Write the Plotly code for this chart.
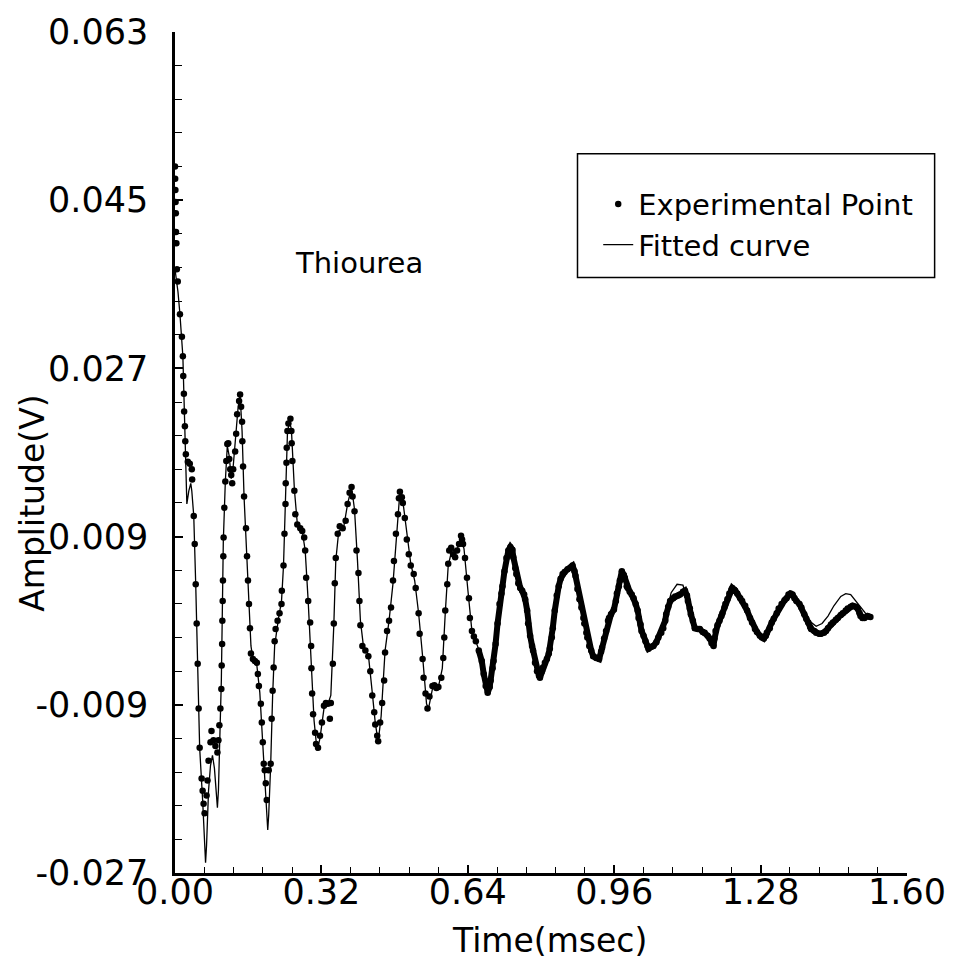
import plotly.graph_objects as go
import numpy as np

# ---------------- data (time in msec, amplitude in V) ----------------
exp_time = [
    0.0000, 0.0004, 0.0008, 0.0013, 0.0018, 0.0022, 0.0030, 0.0040, 0.0060, 0.0108,
    0.0151, 0.0172, 0.0180, 0.0194, 0.0200, 0.0216, 0.0225, 0.0237, 0.0280, 0.0323,
    0.0367, 0.0375, 0.0410, 0.0431, 0.0453, 0.0474, 0.0496, 0.0517, 0.0539, 0.0582,
    0.0604, 0.0625, 0.0647,
    0.0690, 0.0711, 0.0733, 0.0776, 0.0798, 0.0841, 0.0884, 0.0927, 0.0949, 0.0970,
    0.0992, 0.1013, 0.1020, 0.1030, 0.1035, 0.1042, 0.1048, 0.1056, 0.1062, 0.1078,
    0.1100, 0.1121, 0.1143, 0.1164, 0.1186, 0.1207, 0.1229, 0.1250, 0.1272, 0.1315,
    0.1337, 0.1358, 0.1401, 0.1423, 0.1445, 0.1466, 0.1472, 0.1488, 0.1509, 0.1552,
    0.1574, 0.1595, 0.1617, 0.1639, 0.1660, 0.1703, 0.1746, 0.1789, 0.1811, 0.1833,
    0.1876, 0.1897, 0.1919, 0.1940, 0.1962, 0.1984, 0.2005, 0.2048, 0.2091,
    0.2113, 0.2134, 0.2156, 0.2178, 0.2199, 0.2242, 0.2285, 0.2328, 0.2335, 0.2372,
    0.2393, 0.2415, 0.2420, 0.2436, 0.2442, 0.2458, 0.2479, 0.2523, 0.2544, 0.2550,
    0.2566, 0.2609, 0.2630, 0.2673, 0.2738, 0.2781, 0.2824, 0.2846, 0.2867, 0.2911,
    0.2954, 0.2975, 0.2982, 0.2997, 0.3018, 0.3062, 0.3083, 0.3126, 0.3169, 0.3212,
    0.3256, 0.3299, 0.3342, 0.3385, 0.3406, 0.3450, 0.3471, 0.3493, 0.3514, 0.3557,
    0.3601, 0.3665, 0.3730, 0.3773, 0.3816, 0.3859, 0.3881, 0.3924, 0.3967, 0.4010,
    0.4032, 0.4053, 0.4096, 0.4161, 0.4226, 0.4269, 0.4312, 0.4355, 0.4377, 0.4420,
    0.4441, 0.4484, 0.4528, 0.4571, 0.4592, 0.4635, 0.4679, 0.4722, 0.4765, 0.4786,
    0.4829, 0.4873, 0.4894, 0.4916, 0.4959, 0.4980, 0.5023, 0.5067, 0.5110, 0.5153,
    0.5218, 0.5261, 0.5325, 0.5347, 0.5412, 0.5433, 0.5476, 0.5519, 0.5562, 0.5627,
    0.5670, 0.5713, 0.5757, 0.5821, 0.5864, 0.5886, 0.5907, 0.5951, 0.5972, 0.5994,
    0.6037, 0.6080, 0.6123, 0.6166, 0.6209, 0.6252, 0.6274, 0.6296, 0.6339, 0.6382,
    0.6425, 0.6446, 0.6490, 0.6533, 0.6576, 0.6640, 0.6705, 0.6748, 0.6791, 0.6835,
    0.6878, 0.6899, 0.6942, 0.6964, 0.7007, 0.7050, 0.7093, 0.7136, 0.7158, 0.7201,
    0.7244, 0.7287, 0.7330, 0.7374, 0.7395, 0.7438, 0.7460, 0.7503, 0.7546, 0.7589,
    0.7632, 0.7654, 0.7697, 0.7718, 0.7762, 0.7805, 0.7826, 0.7869, 0.7913, 0.7956,
    0.7977, 0.8020, 0.8042, 0.8085, 0.8128, 0.8171, 0.8193, 0.8236, 0.8257, 0.8301,
    0.8344, 0.8387, 0.8430, 0.8473, 0.8516, 0.8581, 0.8646, 0.8689, 0.8732, 0.8753,
    0.8796, 0.8840, 0.8883, 0.8926, 0.8947, 0.8991, 0.9012, 0.9055, 0.9098, 0.9141,
    0.9206, 0.9271, 0.9314, 0.9335, 0.9379, 0.9422, 0.9465, 0.9486, 0.9530, 0.9594,
    0.9637, 0.9659, 0.9702, 0.9724, 0.9767, 0.9810, 0.9831, 0.9874, 0.9896, 0.9939,
    0.9982, 1.0025, 1.0069, 1.0112, 1.0133, 1.0176, 1.0198, 1.0241, 1.0284, 1.0327,
    1.0349, 1.0413, 1.0457, 1.0521, 1.0564, 1.0629, 1.0672, 1.0715, 1.0737, 1.0780,
    1.0823, 1.0888, 1.0931, 1.0996, 1.1039, 1.1103, 1.1147, 1.1190, 1.1211, 1.1254,
    1.1276, 1.1319, 1.1362, 1.1427, 1.1470, 1.1535, 1.1578, 1.1642, 1.1686, 1.1729,
    1.1772, 1.1793, 1.1815, 1.1858, 1.1901, 1.1944, 1.1966, 1.2009, 1.2030, 1.2074,
    1.2117, 1.2160, 1.2181, 1.2225, 1.2246, 1.2289, 1.2354, 1.2397, 1.2462, 1.2505,
    1.2569, 1.2613, 1.2677, 1.2720, 1.2785, 1.2828, 1.2871, 1.2914, 1.2936, 1.3001,
    1.3044, 1.3087, 1.3152, 1.3195, 1.3259, 1.3324, 1.3367, 1.3410, 1.3453, 1.3497,
    1.3540, 1.3583, 1.3648, 1.3691, 1.3755, 1.3798, 1.3842, 1.3885, 1.3906, 1.3971,
    1.4014, 1.4079, 1.4122, 1.4186, 1.4230, 1.4273, 1.4337, 1.4381, 1.4445, 1.4488,
    1.4553, 1.4596, 1.4661, 1.4704, 1.4769, 1.4812, 1.4876, 1.4920, 1.4963, 1.4984,
    1.5027, 1.5070, 1.5135, 1.5200,
]
exp_amp = [
    0.0486, 0.0473, 0.0461, 0.0448, 0.0436, 0.0416, 0.0404, 0.0376, 0.0363, 0.0328,
    0.0304, 0.0283, 0.0262, 0.0243, 0.0224, 0.0208, 0.0192, 0.0178, 0.0170, 0.0168,
    0.0162, 0.0151, 0.0112, 0.0082, 0.0039, -0.0003, -0.0046, -0.0094, -0.0136, -0.0169,
    -0.0182, -0.0196, -0.0206,
    -0.0187, -0.0171, -0.0150, -0.0130, -0.0118, -0.0128, -0.0134, -0.0141, -0.0128, -0.0112,
    -0.0094, -0.0073, -0.0048, -0.0025, 0.0000, 0.0021, 0.0043, 0.0069, 0.0089, 0.0121,
    0.0149, 0.0171, 0.0189, 0.0190, 0.0173, 0.0162, 0.0156, 0.0147, 0.0162, 0.0181,
    0.0200, 0.0221, 0.0235, 0.0242, 0.0229, 0.0213, 0.0192, 0.0165, 0.0133, 0.0099,
    0.0069, 0.0043, 0.0018, -0.0008, -0.0035, -0.0041, -0.0043, -0.0045, -0.0057, -0.0070,
    -0.0089, -0.0109, -0.0130, -0.0153, -0.0160, -0.0174, -0.0192, -0.0160, -0.0153,
    -0.0105, -0.0075, -0.0050, -0.0022, -0.0009, 0.0000, 0.0008, 0.0018, 0.0032, 0.0059,
    0.0093, 0.0125, 0.0147, 0.0169, 0.0185, 0.0203, 0.0211, 0.0216, 0.0203, 0.0190,
    0.0171, 0.0139, 0.0114, 0.0103, 0.0099, 0.0096, 0.0089, 0.0075, 0.0046, 0.0021,
    -0.0002, -0.0027, -0.0051, -0.0078, -0.0100, -0.0120, -0.0132, -0.0136, -0.0123, -0.0109,
    -0.0091, -0.0088, -0.0089, -0.0105, -0.0088, -0.0046, -0.0003, 0.0040, 0.0067, 0.0093,
    0.0101, 0.0099, 0.0107, 0.0125, 0.0137, 0.0143, 0.0133, 0.0117, 0.0075, 0.0051,
    0.0021, -0.0005, -0.0027, -0.0032, -0.0038, -0.0054, -0.0080, -0.0098, -0.0111, -0.0123,
    -0.0129, -0.0109, -0.0088, -0.0064, -0.0034, -0.0011, 0.0000, 0.0014, 0.0043, 0.0064,
    0.0093, 0.0114, 0.0131, 0.0138, 0.0132, 0.0126, 0.0110, 0.0087, 0.0071, 0.0059,
    0.0050, 0.0035, 0.0008, -0.0014, -0.0041, -0.0061, -0.0078, -0.0094, -0.0081, -0.0070,
    -0.0069, -0.0072, -0.0071, -0.0061, -0.0040, -0.0018, 0.0011, 0.0039, 0.0061, 0.0075,
    0.0078, 0.0071, 0.0068, 0.0075, 0.0082, 0.0091, 0.0087, 0.0082, 0.0067, 0.0046,
    0.0024, 0.0003, -0.0011, -0.0017, -0.0022, -0.0032, -0.0043, -0.0057, -0.0070, -0.0077,
    -0.0071, -0.0064, -0.0051, -0.0043, -0.0025, -0.0003, 0.0018, 0.0029, 0.0037, 0.0053,
    0.0067, 0.0075, 0.0079, 0.0076, 0.0068, 0.0056, 0.0050, 0.0040, 0.0035, 0.0032,
    0.0028, 0.0023, 0.0011, -0.0003, -0.0016, -0.0027, -0.0032, -0.0045, -0.0054, -0.0059,
    -0.0061, -0.0054, -0.0050, -0.0045, -0.0041, -0.0035, -0.0030, -0.0018, -0.0008, 0.0011,
    0.0027, 0.0037, 0.0045, 0.0050, 0.0052, 0.0055, 0.0057, 0.0059, 0.0053, 0.0048,
    0.0034, 0.0023, 0.0014, 0.0003, -0.0003, -0.0013, -0.0018, -0.0027, -0.0032, -0.0038,
    -0.0040, -0.0041, -0.0033, -0.0029, -0.0019, -0.0011, 0.0000, 0.0003, 0.0007, 0.0012,
    0.0021, 0.0029, 0.0037, 0.0043, 0.0053, 0.0049, 0.0046, 0.0037, 0.0035, 0.0031,
    0.0028, 0.0024, 0.0018, 0.0011, 0.0003, -0.0004, -0.0011, -0.0016, -0.0022, -0.0027,
    -0.0030, -0.0028, -0.0027, -0.0023, -0.0018, -0.0013, -0.0008, 0.0000, 0.0007, 0.0015,
    0.0021, 0.0024, 0.0026, 0.0027, 0.0028, 0.0031, 0.0032, 0.0027, 0.0021, 0.0013,
    0.0007, 0.0000, -0.0008, -0.0009, -0.0009, -0.0012, -0.0013, -0.0016, -0.0019, -0.0024,
    -0.0027, -0.0019, -0.0011, -0.0005, 0.0000, 0.0005, 0.0008, 0.0014, 0.0018, 0.0023,
    0.0029, 0.0033, 0.0035, 0.0033, 0.0032, 0.0029, 0.0024, 0.0021, 0.0016, 0.0011,
    0.0003, -0.0002, -0.0009, -0.0012, -0.0016, -0.0018, -0.0019, -0.0016, -0.0013, -0.0008,
    -0.0002, 0.0002, 0.0008, 0.0013, 0.0018, 0.0022, 0.0024, 0.0028, 0.0029, 0.0028,
    0.0024, 0.0021, 0.0018, 0.0014, 0.0007, 0.0002, -0.0002, -0.0007, -0.0009, -0.0011,
    -0.0013, -0.0014, -0.0014, -0.0013, -0.0011, -0.0008, -0.0004, -0.0002, 0.0001, 0.0003,
    0.0006, 0.0008, 0.0011, 0.0013, 0.0015, 0.0016, 0.0015, 0.0013, 0.0008, 0.0005,
    0.0003, 0.0003, 0.0005, 0.0004,
]

fit_time = [
    0.0000, 0.0065, 0.0108, 0.0172, 0.0194, 0.0216, 0.0237, 0.0259, 0.0302, 0.0345,
    0.0367, 0.0410, 0.0453, 0.0496, 0.0539, 0.0604, 0.0647, 0.0668, 0.0690, 0.0733,
    0.0776, 0.0819, 0.0862, 0.0906, 0.0927, 0.0949, 0.0970, 0.0992, 0.1013, 0.1035,
    0.1056, 0.1100, 0.1143, 0.1186, 0.1229, 0.1272, 0.1337, 0.1380, 0.1423, 0.1466,
    0.1509, 0.1574, 0.1617, 0.1660, 0.1703, 0.1789, 0.1854, 0.1919, 0.1962, 0.2005,
    0.2027, 0.2048, 0.2091, 0.2134, 0.2178, 0.2264, 0.2328, 0.2372, 0.2415, 0.2458,
    0.2501, 0.2544, 0.2609, 0.2673, 0.2781, 0.2846, 0.2911, 0.2975, 0.3040, 0.3105,
    0.3169, 0.3256, 0.3342, 0.3406, 0.3471, 0.3514, 0.3579, 0.3687, 0.3773, 0.3859,
    0.3924, 0.3989, 0.4053, 0.4118, 0.4226, 0.4312, 0.4377, 0.4441, 0.4506, 0.4592,
    0.4679, 0.4765, 0.4851, 0.4916, 0.4980, 0.5067, 0.5153, 0.5239, 0.5325, 0.5412,
    0.5498, 0.5541, 0.5627, 0.5757, 0.5843, 0.5907, 0.5972, 0.6058, 0.6145, 0.6252,
    0.6317, 0.6403, 0.6490, 0.6619, 0.6748, 0.6835, 0.6921, 0.7007, 0.7115, 0.7223,
    0.7330, 0.7417, 0.7524, 0.7654, 0.7740, 0.7848, 0.7977, 0.8085, 0.8193, 0.8257,
    0.8344, 0.8452, 0.8581, 0.8689, 0.8775, 0.8883, 0.9012, 0.9120, 0.9249, 0.9357,
    0.9465, 0.9594, 0.9702, 0.9767, 0.9874, 1.0025, 1.0133, 1.0241, 1.0349, 1.0500,
    1.0629, 1.0737, 1.0845, 1.0974, 1.1103, 1.1190, 1.1276, 1.1405, 1.1578, 1.1750,
    1.1793, 1.1901, 1.2030, 1.2181, 1.2311, 1.2462, 1.2613, 1.2742, 1.2871, 1.3001,
    1.3152, 1.3303, 1.3453, 1.3583, 1.3734, 1.3863, 1.4014, 1.4143, 1.4273, 1.4402,
    1.4553, 1.4661, 1.4769, 1.4876, 1.4984, 1.5092, 1.5157,
]
fit_amp = [
    0.0376, 0.0352, 0.0328, 0.0283, 0.0243, 0.0192, 0.0155, 0.0125, 0.0139, 0.0147,
    0.0139, 0.0112, 0.0039, -0.0046, -0.0136, -0.0192, -0.0235, -0.0259, -0.0240, -0.0182,
    -0.0155, -0.0144, -0.0158, -0.0187, -0.0200, -0.0182, -0.0144, -0.0102, -0.0064, 0.0011,
    0.0085, 0.0149, 0.0187, 0.0176, 0.0152, 0.0165, 0.0200, 0.0229, 0.0242, 0.0203,
    0.0133, 0.0069, 0.0018, -0.0027, -0.0041, -0.0048, -0.0077, -0.0130, -0.0176, -0.0208,
    -0.0224, -0.0208, -0.0155, -0.0080, -0.0027, 0.0003, 0.0021, 0.0059, 0.0128, 0.0201,
    0.0213, 0.0205, 0.0141, 0.0104, 0.0096, 0.0075, 0.0021, -0.0043, -0.0107, -0.0139,
    -0.0126, -0.0094, -0.0089, -0.0080, -0.0005, 0.0064, 0.0096, 0.0100, 0.0125, 0.0143,
    0.0119, 0.0064, 0.0000, -0.0027, -0.0036, -0.0077, -0.0109, -0.0130, -0.0102, -0.0032,
    0.0000, 0.0040, 0.0101, 0.0138, 0.0128, 0.0091, 0.0061, 0.0043, 0.0008, -0.0038,
    -0.0089, -0.0094, -0.0073, -0.0071, -0.0051, 0.0008, 0.0059, 0.0077, 0.0072, 0.0091,
    0.0077, 0.0032, -0.0011, -0.0028, -0.0056, -0.0078, -0.0059, -0.0025, 0.0023, 0.0061,
    0.0079, 0.0064, 0.0037, 0.0023, -0.0011, -0.0038, -0.0059, -0.0048, -0.0030, -0.0008,
    0.0027, 0.0048, 0.0055, 0.0059, 0.0043, 0.0014, -0.0018, -0.0035, -0.0041, -0.0027,
    0.0000, 0.0012, 0.0037, 0.0053, 0.0038, 0.0024, 0.0003, -0.0016, -0.0029, -0.0025,
    -0.0013, 0.0008, 0.0030, 0.0039, 0.0038, 0.0024, 0.0007, -0.0007, -0.0013, -0.0026,
    -0.0022, 0.0000, 0.0018, 0.0035, 0.0029, 0.0015, 0.0002, -0.0013, -0.0019, -0.0008,
    0.0008, 0.0021, 0.0029, 0.0023, 0.0011, 0.0000, -0.0006, -0.0003, 0.0005, 0.0016,
    0.0026, 0.0029, 0.0028, 0.0021, 0.0014, 0.0008, 0.0006,
]

x_tick_vals = [0.00, 0.32, 0.64, 0.96, 1.28, 1.60]
x_tick_labels = ["0.00", "0.32", "0.64", "0.96", "1.28", "1.60"]
y_tick_vals = [-0.027, -0.009, 0.009, 0.027, 0.045, 0.063]
y_tick_labels = ["-0.027", "-0.009", "0.009", "0.027", "0.045", "0.063"]

series_names = ["Experimental Point", "Fitted curve"]
sample_label = "Thiourea"
x_title = "Time(msec)"
y_title = "Amplitude(V)"

# ---------------- figure ----------------
FONT = "DejaVu Sans"
exp_t = np.array(exp_time)
exp_a = np.array(exp_amp)
dense = exp_t >= 0.66

fig = go.Figure()
fig.add_trace(go.Scatter(
    x=exp_t, y=exp_a, mode="markers", name=series_names[0],
    marker=dict(color="black", size=6.5, symbol="circle"),
))
# dense tail of the measured points merges into a thick band
fig.add_trace(go.Scatter(
    x=exp_t[dense], y=exp_a[dense], mode="lines", showlegend=False,
    line=dict(color="black", width=6), hoverinfo="skip",
))
fig.add_trace(go.Scatter(
    x=fit_time, y=fit_amp, mode="lines", name=series_names[1],
    line=dict(color="black", width=1.3),
))

L, R, T, B = 175, 41, 30, 93
W, H = 958, 966
pw, ph = W - L - R, H - T - B


def px_to_paper(px, py):
    return (px - L) / pw, (H - B - py) / ph


bx0, by0 = px_to_paper(583, 276)
bx1, by1 = px_to_paper(945, 152)
lgx, lgy = px_to_paper(604, 177)
tx, ty = px_to_paper(362, 262)
ytx, yty = px_to_paper(31, 502)
xtx, xty = px_to_paper(555, 941)

fig.update_layout(
    width=W, height=H,
    margin=dict(l=L, r=R, t=T, b=B, pad=0),
    paper_bgcolor="white", plot_bgcolor="white",
    font=dict(family=FONT, color="black", size=34),
    showlegend=True,
    legend=dict(
        x=lgx, y=lgy, xanchor="left", yanchor="top",
        bgcolor="rgba(0,0,0,0)", borderwidth=0,
        font=dict(family=FONT, size=29, color="black"),
        tracegroupgap=0,
    ),
    xaxis=dict(
        range=[0, 1.6], tickmode="array", tickvals=x_tick_vals, ticktext=x_tick_labels,
        ticks="inside", ticklen=8, tickwidth=1.5, tickcolor="black",
        showline=True, linecolor="black", linewidth=2.5, mirror=False,
        showgrid=False, zeroline=False, ticklabelstandoff=-14,
        tickfont=dict(family=FONT, size=35, color="black"),
        minor=dict(dtick=0.064, tick0=0, ticks="inside", ticklen=6, tickwidth=1, tickcolor="black", showgrid=False),
    ),
    yaxis=dict(
        range=[-0.027, 0.063], tickmode="array", tickvals=y_tick_vals, ticktext=y_tick_labels,
        ticks="inside", ticklen=8, tickwidth=1.5, tickcolor="black",
        showline=True, linecolor="black", linewidth=2.5, mirror=False,
        showgrid=False, zeroline=False, ticklabelstandoff=17,
        tickfont=dict(family=FONT, size=35, color="black"),
        minor=dict(dtick=0.0036, tick0=-0.027, ticks="inside", ticklen=7, tickwidth=1.2, tickcolor="black", showgrid=False),
    ),
    shapes=[dict(type="rect", xref="paper", yref="paper", x0=bx0, y0=by0, x1=bx1, y1=by1,
                 line=dict(color="black", width=1.5), fillcolor="rgba(0,0,0,0)", layer="below")],
    annotations=[
        dict(text=sample_label, xref="paper", yref="paper", x=tx, y=ty, showarrow=False,
             xanchor="center", yanchor="middle", font=dict(family=FONT, size=29, color="black")),
        dict(text=y_title, xref="paper", yref="paper", x=ytx, y=yty, showarrow=False,
             textangle=-90, xanchor="center", yanchor="middle",
             font=dict(family=FONT, size=33, color="black")),
        dict(text=x_title, xref="paper", yref="paper", x=xtx, y=xty, showarrow=False,
             xanchor="center", yanchor="middle",
             font=dict(family=FONT, size=33, color="black")),
    ],
)

fig.write_html(
    "out.html",
    config={"displayModeBar": False},
    post_script="document.body.style.margin='0px';document.body.style.padding='0px';document.body.style.overflow='hidden';",
)
